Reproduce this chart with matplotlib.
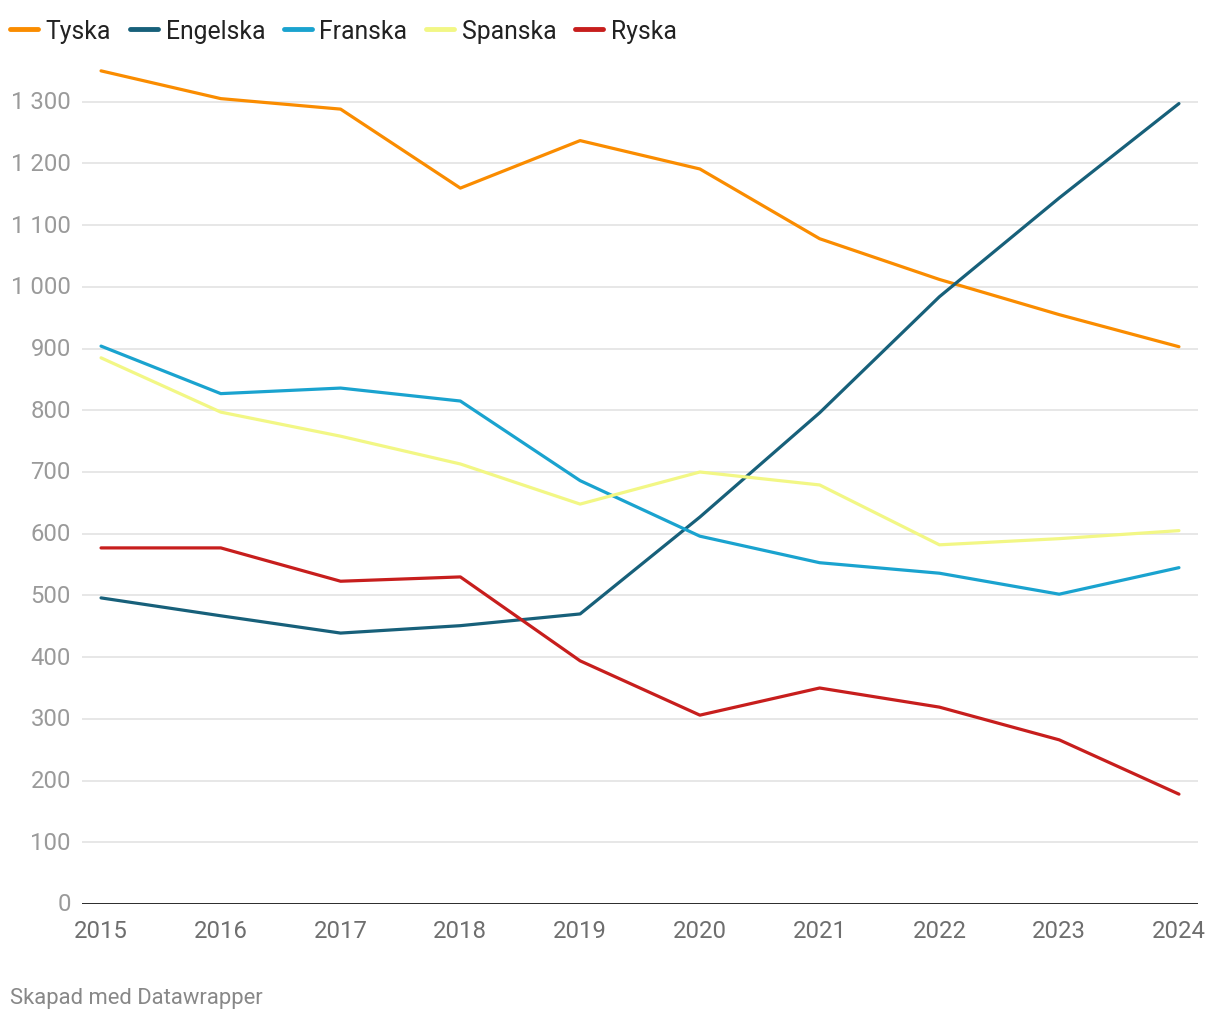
import matplotlib
matplotlib.use("Agg")
import matplotlib.pyplot as plt
from matplotlib.lines import Line2D

years = [2015, 2016, 2017, 2018, 2019, 2020, 2021, 2022, 2023, 2024]
tyska = [1350, 1305, 1288, 1160, 1237, 1191, 1078, 1012, 955, 903]
engelska = [496, 467, 439, 451, 470, 627, 796, 984, 1144, 1297]
franska = [904, 827, 836, 815, 686, 596, 553, 536, 502, 545]
spanska = [885, 797, 758, 713, 648, 700, 679, 582, 592, 605]
ryska = [577, 577, 523, 530, 394, 306, 350, 319, 266, 178]

series = [
    ("Tyska", tyska, "#fa8c00"),
    ("Engelska", engelska, "#17607a"),
    ("Franska", franska, "#1aa3cf"),
    ("Spanska", spanska, "#f2f785"),
    ("Ryska", ryska, "#c71e1d"),
]
yticks = list(range(0, 1301, 100))

plt.rcParams['font.family'] = ['Roboto', 'DejaVu Sans']

fig = plt.figure(figsize=(12.2, 10.2), dpi=100)
ax = fig.add_axes([82/1220, 1-905/1020, (1198-82)/1220, (905-41)/1020])

for name, vals, col in series:
    ax.plot(years, vals, color=col, lw=2.3, solid_capstyle='round', solid_joinstyle='round', zorder=3)

ax.set_xlim(2015 - 0.159, 2024 + 0.159)
ax.set_ylim(0, 1400)
ax.set_yticks(yticks)
ax.set_yticklabels([f"{v:,}".replace(",", " ") for v in yticks])
ax.set_xticks(years)
ax.set_xticklabels([str(y) for y in years])
for s in ax.spines.values():
    s.set_visible(False)
ax.grid(axis='y', color='#e0e0e0', lw=1.1, zorder=0)
ax.axhline(0, color='#1a1a1a', lw=2, zorder=4)
ax.tick_params(axis='y', length=0, pad=8, labelsize=17.2, labelcolor='#9a9a9a')
ax.tick_params(axis='x', length=0, pad=11, labelsize=17.2, labelcolor='#6e6e6e')
for lab in ax.get_yticklabels():
    lab.set_verticalalignment('center')

handles = [Line2D([0], [0], color=c, lw=3.5, solid_capstyle='round') for _, _, c in series]
fig.legend(handles, [n for n, _, _ in series], loc='center left', bbox_to_anchor=(0.0, 1 - 32/1020),
           ncol=5, frameon=False, fontsize=17.8, handlelength=1.15, handletextpad=0.3,
           columnspacing=0.75, labelcolor='#222222', borderaxespad=0, borderpad=0.4)

fig.text(10/1220, 1 - 999/1020, "Skapad med Datawrapper", fontsize=15.8, color='#888888', va='center', ha='left')

fig.savefig("out.png", dpi=100, facecolor='white')
